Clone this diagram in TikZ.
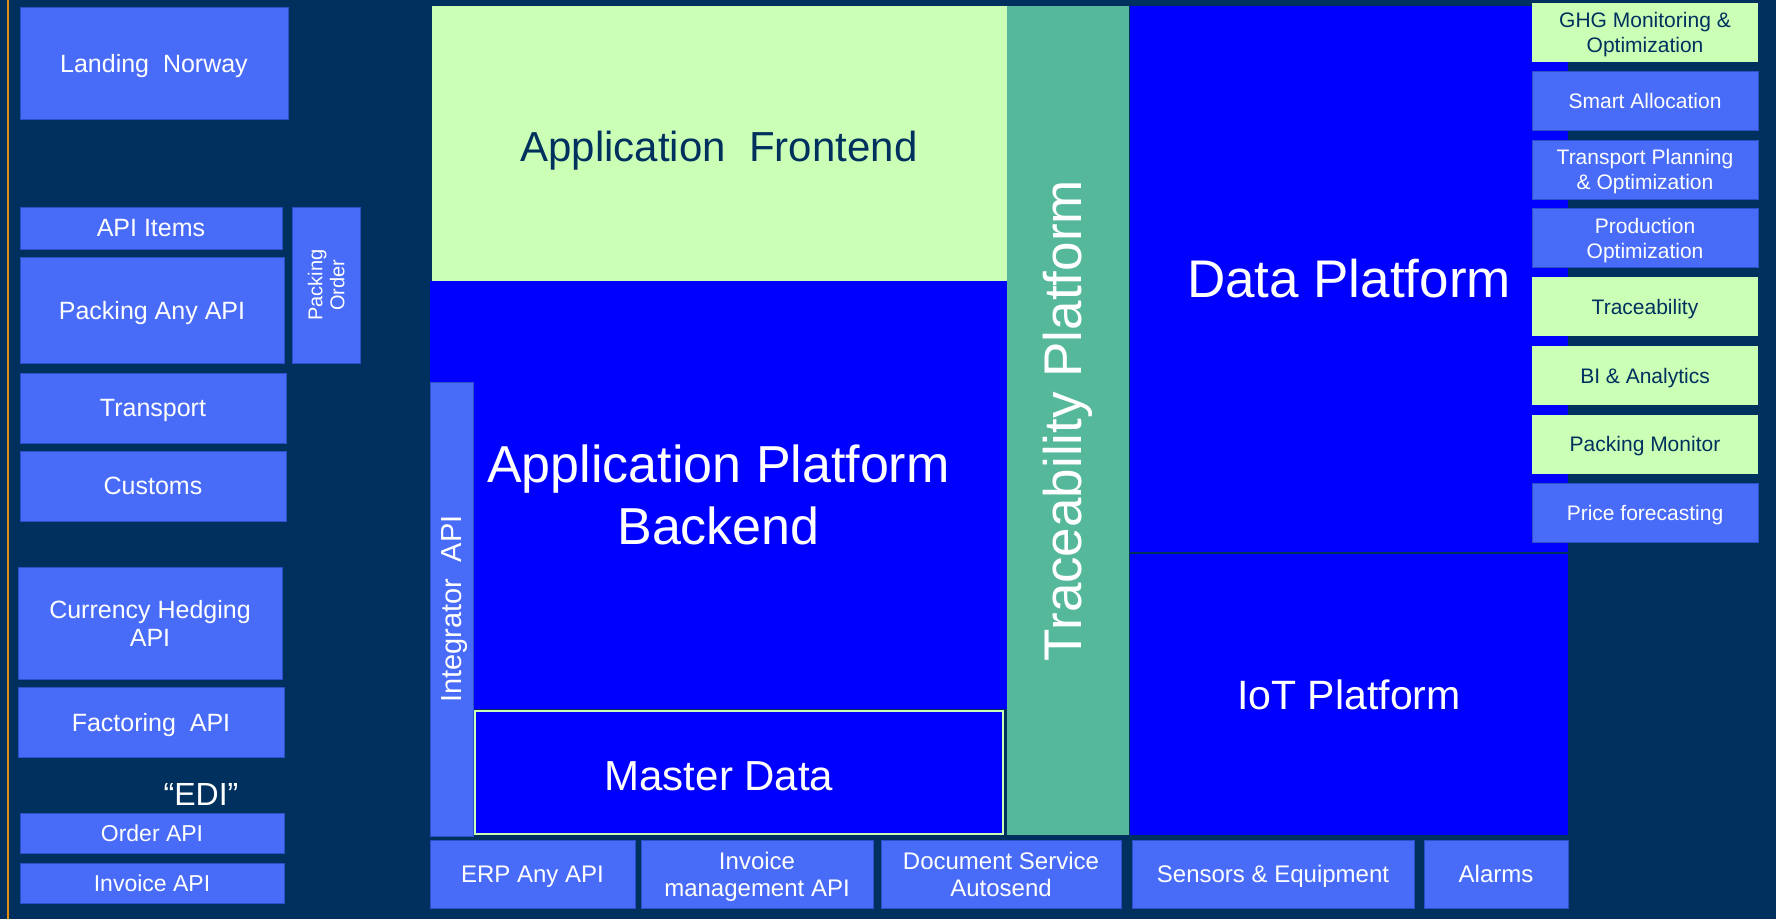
\documentclass[tikz,border=0pt]{standalone}
\usepackage{fontspec}
\setmainfont{Liberation Sans}
\definecolor{navy}{RGB}{0,49,94}
\definecolor{midblue}{RGB}{72,108,248}
\definecolor{midedge}{RGB}{45,80,200}
\definecolor{brightblue}{RGB}{0,0,255}
\definecolor{lightgreen}{RGB}{204,255,182}
\definecolor{tracegreen}{RGB}{85,184,155}
\definecolor{orangeline}{RGB}{230,140,20}
\newcommand{\bx}[7]{\node[#1, anchor=north west, minimum width=#5pt, minimum height=#6pt] (#2) at (#3,-#4) {#7};}
\tikzset{
  base/.style={inner sep=0pt, outer sep=0pt, align=center},
  mid/.style={base, fill=midblue, draw=midedge, line width=0.8pt, text=white, text depth=0pt},
  gbox/.style={base, fill=lightgreen, text=navy, text depth=0pt},
  bright/.style={base, fill=brightblue, text=white},
  fL/.style={font=\fontsize{25}{28}\selectfont},
  fS/.style={font=\fontsize{23}{26}\selectfont},
  fR/.style={font=\fontsize{21}{25}\selectfont},
  fB/.style={font=\fontsize{24}{27}\selectfont},
  fPO/.style={font=\fontsize{20}{22}\selectfont},
  fI/.style={font=\fontsize{29}{32}\selectfont},
  fE/.style={font=\fontsize{32}{36}\selectfont},
  fF/.style={font=\fontsize{42}{48}\selectfont},
  fBk/.style={font=\fontsize{52}{62}\selectfont},
  fT/.style={font=\fontsize{53}{60}\selectfont},
  fIoT/.style={font=\fontsize{41}{46}\selectfont},
}
\begin{document}
\begin{tikzpicture}[x=1pt,y=1pt]
\fill[navy] (0,0) rectangle (1776,-919);
\useasboundingbox (0,0) rectangle (1776,-919);
\draw[orangeline, line width=2pt] (8,0) -- (8,-919);

% left column
\bx{mid, fL}{landing}{20}{7}{268}{112}{Landing~ Norway}
\bx{mid, fL}{apiitems}{20}{207}{262}{42}{API Items}
\bx{mid, fL}{packany}{20}{257}{264}{106}{Packing Any API}
\node[mid, fPO, rotate=90, minimum width=156pt, minimum height=68pt] (packorder) at (326,-285) {Packing\\Order};
\bx{mid, fL}{transport}{20}{373}{266}{70}{Transport}
\bx{mid, fL}{customs}{20}{451}{266}{70}{Customs}
\bx{mid, fL}{currency}{18}{567}{264}{112}{Currency Hedging\\API}
\bx{mid, fL}{factoring}{18}{687}{266}{70}{Factoring~ API}
\node[base, fE, text=white, anchor=base] (edi) at (201,-805) {``EDI''};
\bx{mid, fS}{orderapi}{20}{813}{264}{40}{Order API}
\bx{mid, fS}{invoiceapi}{20}{863}{264}{40}{Invoice API}

% application stack
\bx{gbox}{frontend}{432}{6}{575}{275}{}
\node[base, fF, text=navy, anchor=base] (frontendt) at (719,-161) {Application~ Frontend};
\bx{bright, fBk}{backend}{430}{281}{577}{428}{Application Platform\\Backend}
\node[mid, fI, rotate=90, minimum width=454pt, minimum height=43pt] (integrator) at (451.5,-609) {Integrator~ API};
\bx{bright, draw=lightgreen, line width=1.5pt}{master}{475}{711}{528}{123}{}
\node[base, fF, text=white, anchor=base] (mastert) at (719,-790) {Master Data};
\node[base, fT, fill=tracegreen, text=white, rotate=90, minimum width=829pt, minimum height=122pt] (trace) at (1068,-420.5) {Traceability Platform};
\bx{bright, fT}{data}{1130}{6}{438}{546}{Data Platform}
\bx{bright, fIoT}{iot}{1130}{554}{438}{281}{IoT Platform}

% right column
\bx{gbox, fR}{ghg}{1532}{3}{226}{59}{GHG Monitoring \&\\Optimization}
\bx{mid, fR}{smart}{1532}{71.6}{226}{59}{Smart Allocation}
\bx{mid, fR}{transplan}{1532}{140.2}{226}{59}{Transport Planning\\\& Optimization}
\bx{mid, fR}{prodopt}{1532}{208.8}{226}{59}{Production\\Optimization}
\bx{gbox, fR}{tracebox}{1532}{277.4}{226}{59}{Traceability}
\bx{gbox, fR}{bi}{1532}{346}{226}{59}{BI \& Analytics}
\bx{gbox, fR}{packmon}{1532}{414.6}{226}{59}{Packing Monitor}
\bx{mid, fR}{price}{1532}{483.2}{226}{59}{Price forecasting}

% bottom row
\bx{mid, fB}{erp}{430}{840}{205}{68}{ERP Any API}
\bx{mid, fB}{invmgmt}{641}{840}{232}{68}{Invoice\\management API}
\bx{mid, fB}{docserv}{881}{840}{240}{68}{Document Service\\Autosend}
\bx{mid, fB}{sensors}{1132}{840}{282}{68}{Sensors \& Equipment}
\bx{mid, fB}{alarms}{1424}{840}{144}{68}{Alarms}
\end{tikzpicture}
\end{document}
